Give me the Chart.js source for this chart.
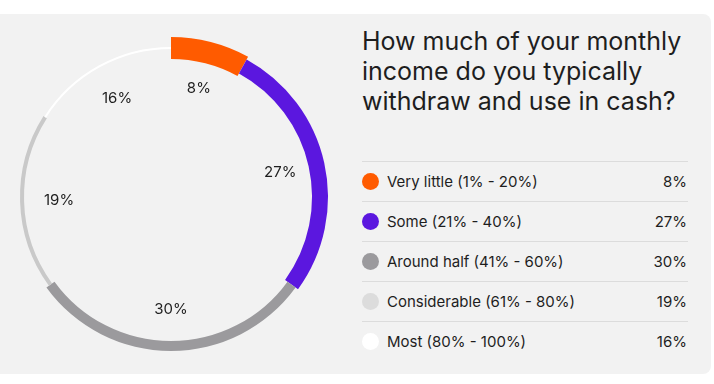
<!DOCTYPE html>
<html><head><meta charset="utf-8">
<script src="https://cdn.jsdelivr.net/npm/chart.js@4.4.1/dist/chart.umd.min.js"></script>
<style>
html,body{margin:0;padding:0;background:#fff;width:714px;height:384px;overflow:hidden;font-family:Inter,"Liberation Sans",sans-serif;color:#1e1e1e;}
#panel{position:absolute;left:0;top:14px;width:711px;height:360px;background:#f2f2f2;border-radius:0 8px 8px 0;}
#chartWrap{position:absolute;left:0;top:26px;width:342px;height:342px;}
#title{position:absolute;left:362px;top:26px;font-size:25px;line-height:30px;font-weight:400;letter-spacing:0;}
#legend{position:absolute;left:362px;top:161px;width:326px;}
.row{position:relative;height:39px;border-top:1px solid #dcdcdc;font-size:15px;line-height:39px;}
.dot{position:absolute;left:0;top:11px;width:17px;height:17px;border-radius:50%;}
.lab{position:absolute;left:25px;top:0;}
.val{position:absolute;right:1px;top:0;}
</style></head>
<body>
<div id="panel"></div>
<div id="chartWrap"><canvas id="c" width="342" height="342"></canvas></div>
<div id="title">How much of your monthly<br>income do you typically<br>withdraw and use in cash?</div>
<div id="legend"></div>
<script>
const categories = ["Very little (1% - 20%)", "Some (21% - 40%)", "Around half (41% - 60%)", "Considerable (61% - 80%)", "Most (80% - 100%)"];
const shares = [8, 27, 30, 19, 16];
const valueLabels = ["8%", "27%", "30%", "19%", "16%"];

const arcColors = ["#ff5b00", "#5b17df", "#9b9a9d", "#c9c9c9", "#ffffff"];
const dotColors = ["#ff5b00", "#5b17df", "#9b9a9d", "#dcdcdc", "#ffffff"];
const ringWidths = [22, 16, 10, 4, 2];

// legend
const lg = document.getElementById('legend');
categories.forEach((c, i) => {
  const r = document.createElement('div'); r.className = 'row';
  r.innerHTML = '<span class="dot" style="background:' + dotColors[i] + '"></span><span class="lab"></span><span class="val"></span>';
  r.querySelector('.lab').textContent = c;
  r.querySelector('.val').textContent = valueLabels[i];
  lg.appendChild(r);
});

const ringPlugin = {
  id: 'ringWidths',
  beforeDatasetsDraw(chart) {
    const meta = chart.getDatasetMeta(0);
    const outer = meta.controller.outerRadius;
    const mid = outer - 22;
    meta.data.forEach((arc, i) => {
      arc.outerRadius = mid + ringWidths[i] / 2;
      arc.innerRadius = mid - ringWidths[i] / 2;
    });
  },
  afterDatasetsDraw(chart) {
    const meta = chart.getDatasetMeta(0);
    const outer = meta.controller.outerRadius;
    const r = outer - 22 - 37;
    const ctx = chart.ctx;
    ctx.save();
    ctx.font = '15px Inter, "Liberation Sans", sans-serif';
    ctx.fillStyle = '#1e1e1e';
    ctx.textAlign = 'center';
    ctx.textBaseline = 'middle';
    meta.data.forEach((arc, i) => {
      const a = (arc.startAngle + arc.endAngle) / 2;
      ctx.fillText(valueLabels[i], arc.x + r * Math.cos(a), arc.y + r * Math.sin(a));
    });
    ctx.restore();
  }
};

new Chart(document.getElementById('c'), {
  type: 'doughnut',
  data: { labels: categories, datasets: [{ data: shares, backgroundColor: arcColors, borderWidth: 0, hoverOffset: 0 }] },
  options: {
    responsive: false, animation: false, cutout: '80%',
    layout: { padding: 0 },
    plugins: { legend: { display: false }, tooltip: { enabled: false } },
    events: []
  },
  plugins: [ringPlugin]
});
</script>
</body></html>
